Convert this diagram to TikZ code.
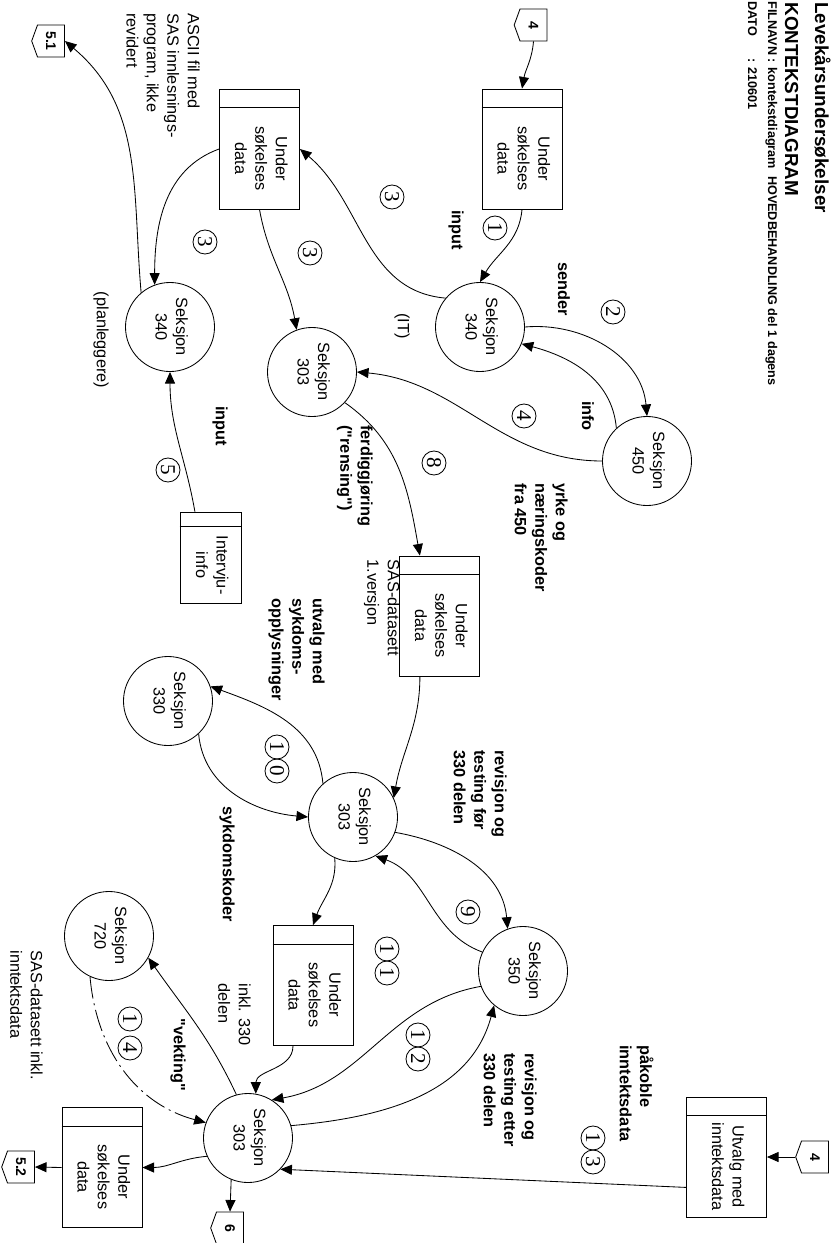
\documentclass[tikz,border=0pt]{standalone}
\usepackage{fontspec}
\setmainfont{Liberation Sans}
\newfontfamily\numfont{Liberation Serif}
\usepackage{graphicx}
\usetikzlibrary{arrows.meta}
\usetikzlibrary{shapes.symbols}

\newcommand{\rot}[1]{\rotatebox{-90}{\begin{tabular}{@{}c@{}}#1\end{tabular}}}
\newcommand{\strot}[2][.475cm]{\rotatebox{-90}{\hspace*{#1}\begin{tabular}{@{}c@{}}#2\end{tabular}}}

\tikzset{
  proc/.style={circle, draw, minimum size=2.225cm, inner sep=0pt},
  store/.style={rectangle, draw, minimum width=2cm, minimum height=3cm, inner sep=0pt},
  tag/.style={signal, signal to=west, signal pointer angle=140, draw, minimum width=0.82cm,
    minimum height=0.8cm, inner sep=0pt, font=\fontsize{10}{12}\selectfont\bfseries},
  nr/.style={circle, draw, minimum size=0.6cm, inner sep=0pt, font=\numfont\fontsize{15}{15}\selectfont},
  lbl/.style={rotate=-90, inner sep=0pt, font=\fontsize{11.6}{14.5}\selectfont\bfseries},
  note/.style={rotate=-90, inner sep=0pt, font=\fontsize{11.6}{14.5}\selectfont},
  block/.style={align=left, anchor=north west},
  vekt/.style={dash pattern=on 0.55cm off 0.12cm on 0.05cm off 0.12cm},
}

\begin{document}
\begin{tikzpicture}[x=0.025cm,y=0.025cm,line width=0.6pt,
  >={Triangle[length=0.29cm,width=0.25cm]},
  every node/.style={font=\fontsize{11.6}{14.5}\selectfont}]
\useasboundingbox (0,0) rectangle (835,-1243);

% title
\node[lbl,anchor=base west,font=\fontsize{13.4}{16}\selectfont\bfseries] (ttl1) at (815,-2) {Levekårsundersøkelser};
\node[lbl,anchor=base west,font=\fontsize{13.4}{16}\selectfont\bfseries] (ttl2) at (785,-2) {KONTEKSTDIAGRAM};
\node[lbl,anchor=base west,font=\fontsize{9}{14.2}\selectfont\bfseries] (ttl3) at (768,-1)
  {\begin{tabular}[t]{@{}l@{ }l@{}}FILNAVN & : kontekstdiagram\ \ HOVEDBEHANDLING del 1 dagens\\ DATO & : 210601\end{tabular}};

% processes
\node[proc] (c340a) at (480,-327) {\rot{Seksjon\\340}};
\node[proc] (c450) at (647,-461) {\rot{Seksjon\\450}};
\node[proc] (c303a) at (312,-372) {\rot{Seksjon\\303}};
\node[proc] (c340b) at (170,-327) {\rot{Seksjon\\340}};
\node[proc] (c330) at (168,-701) {\rot{Seksjon\\330}};
\node[proc] (c303b) at (353,-817) {\rot{Seksjon\\303}};
\node[proc] (c350) at (523,-971) {\rot{Seksjon\\350}};
\node[proc] (c720) at (109,-936) {\rot{Seksjon\\720}};
\node[proc] (c303c) at (248,-1138) {\rot{Seksjon\\303}};

% data stores
\node[store] (s1) at (522,-149) {\strot{Under\\søkelses\\data}};
\node[store] (s2) at (259.5,-149) {\strot{Under\\søkelses\\data}};
\node[store] (s3) at (439.5,-616) {\strot{Under\\søkelses\\data}};
\node[store] (s4) at (313,-985.5) {\strot{Under\\søkelses\\data}};
\node[store] (s5) at (726.5,-1157) {\strot{Utvalg med\\inntektsdata}};
\node[store] (s6) at (102,-1167.5) {\strot{Under\\søkelses\\data}};
\node[store,minimum width=1.525cm,minimum height=2.275cm] (s7) at (210.5,-557.5) {\strot[.375cm]{Intervju-\\info}};
\foreach \s in {s1,s2,s3,s4,s5,s6}
  \draw ([yshift=-0.475cm]\s.north west) -- ([yshift=-0.475cm]\s.north east);
\draw ([yshift=-0.375cm]s7.north west) -- ([yshift=-0.375cm]s7.north east);

% off-page connectors
\node[tag] (t4a) at (533.5,-25) {\rotatebox{-90}{4}};
\node[tag] (t51) at (51,-41) {\rotatebox{-90}{5.1}};
\node[tag] (t4b) at (815,-1157) {\rotatebox{-90}{4}};
\node[tag] (t52) at (21,-1167) {\rotatebox{-90}{5.2}};
\node[tag] (t6) at (230,-1228) {\rotatebox{-90}{6}};

% flow numbers
\node[nr] (n1) at (495,-228) {\rotatebox{-90}{1}};
\node[nr] (n2) at (613,-312) {\rotatebox{-90}{2}};
\node[nr] (n3a) at (392,-197) {\rotatebox{-90}{3}};
\node[nr] (n3b) at (310,-253) {\rotatebox{-90}{3}};
\node[nr] (n3c) at (205,-242) {\rotatebox{-90}{3}};
\node[nr] (n4) at (524,-416) {\rotatebox{-90}{4}};
\node[nr] (n5) at (168,-470) {\rotatebox{-90}{5}};
\node[nr] (n8) at (434,-463) {\rotatebox{-90}{8}};
\node[nr] (n9) at (468,-912) {\rotatebox{-90}{9}};
\node[nr] (n10a) at (277,-747) {\rotatebox{-90}{1}};
\node[nr] (n10b) at (277,-771) {\rotatebox{-90}{0}};
\node[nr] (n11a) at (387,-949) {\rotatebox{-90}{1}};
\node[nr] (n11b) at (387,-973) {\rotatebox{-90}{1}};
\node[nr] (n12a) at (418,-1035) {\rotatebox{-90}{1}};
\node[nr] (n12b) at (418,-1059) {\rotatebox{-90}{2}};
\node[nr] (n13a) at (593,-1138) {\rotatebox{-90}{1}};
\node[nr] (n13b) at (593,-1162) {\rotatebox{-90}{3}};
\node[nr] (n14a) at (130,-1019) {\rotatebox{-90}{1}};
\node[nr] (n14b) at (130,-1048) {\rotatebox{-90}{4}};

% flow texts
\node[lbl] (linput1) at (456,-230) {input};
\node[lbl] (lsender) at (564,-289) {sender};
\node[lbl] (linfo) at (588,-416) {info};
\node[lbl] (linput2) at (220,-426) {input};
\node[note] (lit) at (402,-326) {(IT)};
\node[note] (lplan) at (101,-340) {(planleggere)};
\node[note,block] (lascii) at (200,-13) {ASCII fil med\\SAS innlesnings-\\program, ikke\\revidert};
\node[lbl,block] (lyrke) at (568,-483) {yrke og\\næringskoder\\fra 450};
\node[lbl,block] (lferdig) at (373,-425) {ferdiggjøring\\(\textquotedbl rensing\textquotedbl)};
\node[note,block] (lsas1) at (400,-559) {SAS-datasett\\1.versjon};
\node[lbl,block] (lutvalg) at (325,-598) {utvalg med\\sykdoms-\\opplysninger};
\node[lbl,block] (lrevfor) at (507,-750) {revisjon og\\testing før\\330 delen};
\node[lbl,block] (lsykd) at (235,-806) {sykdomskoder};
\node[note,block] (linkl) at (251,-983) {inkl. 330\\delen};
\node[lbl,block] (lvekt) at (186,-1018) {\textquotedbl vekting\textquotedbl};
\node[note,block] (lsas2) at (43,-950) {SAS-datasett inkl.\\inntektsdata};
\node[lbl,block] (lreveft) at (537,-1053) {revisjon og\\testing etter\\330 delen};
\node[lbl,block] (lpaak) at (654,-1045) {påkoble\\inntektsdata};

\path[->]
(t4a.south) edge[out=-95,in=80] (s1.north)
(s1.south) edge[out=-95,in=60] (c340a.north)
(c340a.140) edge[out=175,in=-40] (s2.east)
(s2.south) edge[out=-80,in=100] (c303a.110)
(s2.west) edge[out=200,in=90] (c340b.110)
(c340b.130) edge[out=95,in=-40] (t51.east)
(c340a.0) edge[out=5,in=95] (c450.north)
(c450.133) edge[out=95,in=-15] (c340a.-22)
(c450.180) edge[out=180,in=-5] (c303a.0)
(c303a.-43) edge[out=-35,in=100] ([xshift=-0.49cm]s3.north)
([xshift=-0.39cm]s7.north) edge[out=100,in=-90] (c340b.south)
([xshift=-0.49cm]s3.south) edge[out=-90,in=80] (c303b.25)
(c303b.132) edge[out=95,in=-20] (c330.19)
(c330.-47) edge[out=-85,in=175] (c303b.180)
(c303b.-20) edge[out=-10,in=95] (c350.110)
(c350.155) edge[out=160,in=-20] (c303b.-60)
(c303b.-114) edge[out=-85,in=70] (s4.north)
([xshift=-0.5cm]s4.south) edge[out=-90,in=90] (c303c.80)
(c303c.105) edge[out=115,in=-55] (c720.-29)
(c720.-115) edge[vekt,out=-85,in=165] (c303c.160)
(c350.200) edge[out=190,in=10] (c303c.58)
(c303c.16) edge[out=5,in=-105] (c350.-130)
([yshift=-0.76cm]s5.west) edge (c303c.-44)
(t4b.west) edge (s5.east)
(c303c.204) edge[out=185,in=0] (s6.east)
(s6.west) edge (t52.east)
(c303c.-112) edge (t6.north);
\end{tikzpicture}
\end{document}
